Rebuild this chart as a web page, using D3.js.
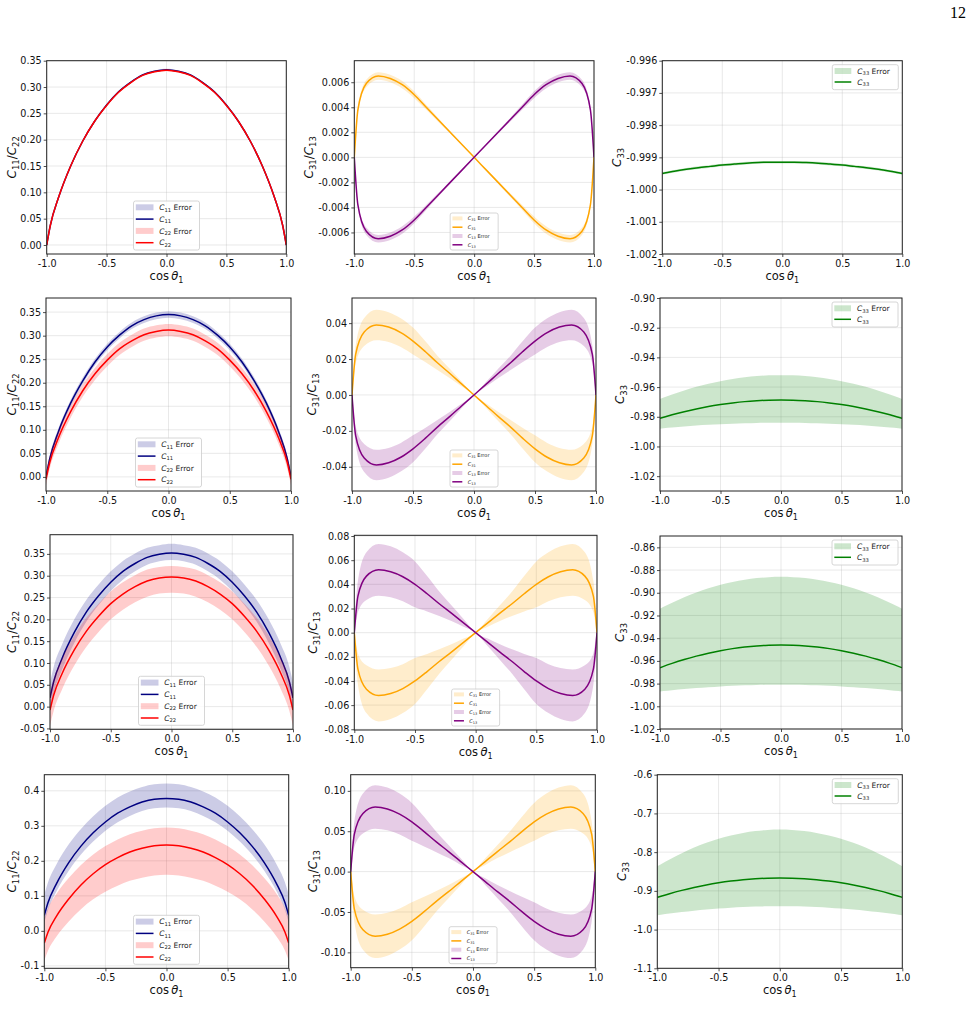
<!DOCTYPE html>
<html>
<head>
<meta charset="utf-8">
<script src="https://cdn.jsdelivr.net/npm/d3@7"></script>
<style>
body { margin: 0; background: #fff; }
svg { display: block; font-family: "DejaVu Sans", sans-serif; }
</style>
</head>
<body>
<script>
const cosTheta = [-1, -0.97, -0.9, -0.8, -0.7, -0.6, -0.5, -0.4, -0.3, -0.2, -0.1, 0, 0.1, 0.2, 0.3, 0.4, 0.5, 0.6, 0.7, 0.8, 0.9, 0.97, 1]

// ---- row 1 ----
const c11Row1 = [0, 0.037, 0.091, 0.150, 0.197, 0.235, 0.266, 0.291, 0.309, 0.323, 0.330, 0.333, 0.330, 0.323, 0.309, 0.291, 0.266, 0.235, 0.197, 0.150, 0.091, 0.037, 0]
const c11Row1Err = [0.0015, 0.0015, 0.0015, 0.0015, 0.0015, 0.0015, 0.0015, 0.0015, 0.0015, 0.0015, 0.0015, 0.0015, 0.0015, 0.0015, 0.0015, 0.0015, 0.0015, 0.0015, 0.0015, 0.0015, 0.0015, 0.0015, 0.0015]
const c22Row1 = [0, 0.037, 0.091, 0.150, 0.197, 0.235, 0.265, 0.290, 0.308, 0.322, 0.329, 0.332, 0.329, 0.322, 0.308, 0.290, 0.265, 0.235, 0.197, 0.150, 0.091, 0.037, 0]
const c22Row1Err = [0.0015, 0.0015, 0.0015, 0.0015, 0.0015, 0.0015, 0.0015, 0.0015, 0.0015, 0.0015, 0.0015, 0.0015, 0.0015, 0.0015, 0.0015, 0.0015, 0.0015, 0.0015, 0.0015, 0.0015, 0.0015, 0.0015, 0.0015]
const c31Row1 = [0, 0.0038, 0.0059, 0.0065, 0.0063, 0.0058, 0.0050, 0.0040, 0.0030, 0.0020, 0.0010, 0, -0.0010, -0.0020, -0.0030, -0.0040, -0.0050, -0.0058, -0.0063, -0.0065, -0.0059, -0.0038, 0]
const c13Row1 = [0, -0.0038, -0.0059, -0.0065, -0.0063, -0.0058, -0.0050, -0.0040, -0.0030, -0.0020, -0.0010, 0, 0.0010, 0.0020, 0.0030, 0.0040, 0.0050, 0.0058, 0.0063, 0.0065, 0.0059, 0.0038, 0]
const c31Row1Err = [0.0001, 0.0002, 0.0003, 0.0003, 0.0003, 0.0003, 0.00027, 0.0002, 0.00015, 0.0001, 0.00005, 0, 0.00005, 0.0001, 0.00015, 0.0002, 0.00027, 0.0003, 0.0003, 0.0003, 0.0003, 0.0002, 0.0001]
const c33Row1 = [-0.99950, -0.99948, -0.99943, -0.99937, -0.99932, -0.99928, -0.99924, -0.99921, -0.99918, -0.99916, -0.99915, -0.99915, -0.99915, -0.99916, -0.99918, -0.99921, -0.99924, -0.99928, -0.99932, -0.99937, -0.99943, -0.99948, -0.99950]
const c33Row1Err = [0.00004, 0.00004, 0.00004, 0.00004, 0.00004, 0.00004, 0.00004, 0.00004, 0.00004, 0.00004, 0.00004, 0.00004, 0.00004, 0.00004, 0.00004, 0.00004, 0.00004, 0.00004, 0.00004, 0.00004, 0.00004, 0.00004, 0.00004]

// ---- row 2 ----
const c11Row2 = [0, 0.038, 0.095, 0.156, 0.204, 0.244, 0.276, 0.301, 0.321, 0.334, 0.342, 0.345, 0.342, 0.334, 0.321, 0.301, 0.276, 0.244, 0.204, 0.156, 0.095, 0.038, 0]
const c11Row2Err = [0.007, 0.007, 0.007, 0.007, 0.007, 0.007, 0.007, 0.007, 0.007, 0.007, 0.007, 0.007, 0.007, 0.007, 0.007, 0.007, 0.007, 0.007, 0.007, 0.007, 0.007, 0.007, 0.007]
const c22Row2 = [-0.005, 0.030, 0.082, 0.138, 0.183, 0.219, 0.248, 0.272, 0.289, 0.302, 0.309, 0.312, 0.309, 0.302, 0.289, 0.272, 0.248, 0.219, 0.183, 0.138, 0.082, 0.030, -0.005]
const c22Row2Err = [0.013, 0.013, 0.013, 0.013, 0.013, 0.013, 0.013, 0.013, 0.013, 0.013, 0.013, 0.013, 0.013, 0.013, 0.013, 0.013, 0.013, 0.013, 0.013, 0.013, 0.013, 0.013, 0.013]
const c31Row2 = [0, 0.0226, 0.0351, 0.039, 0.0378, 0.0347, 0.0300, 0.0242, 0.0179, 0.0121, 0.0060, 0, -0.0060, -0.0121, -0.0179, -0.0242, -0.0300, -0.0347, -0.0378, -0.039, -0.0351, -0.0226, 0]
const c13Row2 = [0, -0.0226, -0.0351, -0.039, -0.0378, -0.0347, -0.0300, -0.0242, -0.0179, -0.0121, -0.0060, 0, 0.0060, 0.0121, 0.0179, 0.0242, 0.0300, 0.0347, 0.0378, 0.039, 0.0351, 0.0226, 0]
const c31Row2Err = [0.002, 0.005, 0.0078, 0.0085, 0.0083, 0.008, 0.0075, 0.0058, 0.004, 0.0026, 0.0013, 0, 0.0013, 0.0026, 0.004, 0.0058, 0.0075, 0.008, 0.0083, 0.0085, 0.0078, 0.005, 0.002]
const c33Row2 = [-0.9810, -0.9803, -0.9787, -0.9766, -0.9747, -0.9731, -0.9718, -0.9707, -0.9698, -0.9692, -0.9688, -0.9687, -0.9688, -0.9692, -0.9698, -0.9707, -0.9718, -0.9731, -0.9747, -0.9766, -0.9787, -0.9803, -0.9810]
const c33Row2Up = [0.0130, 0.0132, 0.0137, 0.0143, 0.0149, 0.0154, 0.0158, 0.0161, 0.0164, 0.0166, 0.0167, 0.0167, 0.0167, 0.0166, 0.0164, 0.0161, 0.0158, 0.0154, 0.0149, 0.0143, 0.0137, 0.0132, 0.0130]
const c33Row2Down = [0.0070, 0.0075, 0.0086, 0.0100, 0.0112, 0.0123, 0.0132, 0.0140, 0.0146, 0.0150, 0.0152, 0.0153, 0.0152, 0.0150, 0.0146, 0.0140, 0.0132, 0.0123, 0.0112, 0.0100, 0.0086, 0.0075, 0.0070]

// ---- row 3 ----
const c11Row3 = [0.02, 0.057, 0.111, 0.170, 0.217, 0.254, 0.285, 0.310, 0.328, 0.342, 0.349, 0.352, 0.349, 0.342, 0.328, 0.310, 0.285, 0.254, 0.217, 0.170, 0.111, 0.057, 0.02]
const c11Row3Up = [0.035, 0.034, 0.032, 0.030, 0.028, 0.026, 0.025, 0.024, 0.023, 0.022, 0.021, 0.021, 0.021, 0.022, 0.023, 0.024, 0.025, 0.026, 0.028, 0.030, 0.032, 0.034, 0.035]
const c11Row3Down = [0.028, 0.027, 0.026, 0.024, 0.022, 0.021, 0.020, 0.019, 0.018, 0.017, 0.016, 0.016, 0.016, 0.017, 0.018, 0.019, 0.020, 0.021, 0.022, 0.024, 0.026, 0.027, 0.028]
const c22Row3 = [-0.008, 0.026, 0.076, 0.130, 0.173, 0.207, 0.236, 0.258, 0.275, 0.288, 0.295, 0.297, 0.295, 0.288, 0.275, 0.258, 0.236, 0.207, 0.173, 0.130, 0.076, 0.026, -0.008]
const c22Row3Up = [0.038, 0.037, 0.035, 0.033, 0.031, 0.029, 0.028, 0.027, 0.026, 0.026, 0.025, 0.025, 0.025, 0.026, 0.026, 0.027, 0.028, 0.029, 0.031, 0.033, 0.035, 0.037, 0.038]
const c22Row3Down = [0.036, 0.036, 0.036, 0.036, 0.036, 0.036, 0.036, 0.036, 0.036, 0.036, 0.036, 0.036, 0.036, 0.036, 0.036, 0.036, 0.036, 0.036, 0.036, 0.036, 0.036, 0.036, 0.036]
const c31Row3 = [0, -0.0302, -0.0468, -0.052, -0.0504, -0.0463, -0.0400, -0.0322, -0.0239, -0.0161, -0.0081, 0, 0.0081, 0.0161, 0.0239, 0.0322, 0.0400, 0.0463, 0.0504, 0.052, 0.0468, 0.0302, 0]
const c13Row3 = [0, 0.0302, 0.0468, 0.052, 0.0504, 0.0463, 0.0400, 0.0322, 0.0239, 0.0161, 0.0081, 0, -0.0081, -0.0161, -0.0239, -0.0322, -0.0400, -0.0463, -0.0504, -0.052, -0.0468, -0.0302, 0]
const c31Row3Err = [0.005, 0.013, 0.0198, 0.0215, 0.0211, 0.0202, 0.019, 0.0146, 0.0101, 0.0065, 0.0032, 0, 0.0032, 0.0065, 0.0101, 0.0146, 0.019, 0.0202, 0.0211, 0.0215, 0.0198, 0.013, 0.005]
const c33Row3 = [-0.966, -0.9648, -0.9622, -0.9588, -0.9558, -0.9532, -0.951, -0.9492, -0.9478, -0.9468, -0.9462, -0.946, -0.9462, -0.9468, -0.9478, -0.9492, -0.951, -0.9532, -0.9558, -0.9588, -0.9622, -0.9648, -0.966]
const c33Row3Up = [0.052, 0.0525, 0.0535, 0.0549, 0.0561, 0.0571, 0.058, 0.0587, 0.0593, 0.0597, 0.0599, 0.060, 0.0599, 0.0597, 0.0593, 0.0587, 0.058, 0.0571, 0.0561, 0.0549, 0.0535, 0.0525, 0.052]
const c33Row3Down = [0.021, 0.0218, 0.0237, 0.0260, 0.0281, 0.0300, 0.0315, 0.0328, 0.0337, 0.0344, 0.0349, 0.035, 0.0349, 0.0344, 0.0337, 0.0328, 0.0315, 0.0300, 0.0281, 0.0260, 0.0237, 0.0218, 0.021]

// ---- row 4 ----
const c11Row4 = [0.044, 0.080, 0.135, 0.195, 0.242, 0.280, 0.311, 0.336, 0.354, 0.368, 0.376, 0.378, 0.376, 0.368, 0.354, 0.336, 0.311, 0.280, 0.242, 0.195, 0.135, 0.080, 0.044]
const c11Row4Up = [0.060, 0.058, 0.055, 0.052, 0.049, 0.047, 0.046, 0.045, 0.044, 0.043, 0.043, 0.043, 0.043, 0.043, 0.044, 0.045, 0.046, 0.047, 0.049, 0.052, 0.055, 0.058, 0.060]
const c11Row4Down = [0.020, 0.021, 0.022, 0.023, 0.024, 0.025, 0.025, 0.026, 0.026, 0.026, 0.026, 0.026, 0.026, 0.026, 0.026, 0.026, 0.025, 0.025, 0.024, 0.023, 0.022, 0.021, 0.020]
const c22Row4 = [-0.035, -0.004, 0.042, 0.091, 0.131, 0.163, 0.189, 0.209, 0.225, 0.236, 0.243, 0.245, 0.243, 0.236, 0.225, 0.209, 0.189, 0.163, 0.131, 0.091, 0.042, -0.004, -0.035]
const c22Row4Up = [0.070, 0.068, 0.064, 0.060, 0.057, 0.055, 0.053, 0.052, 0.051, 0.050, 0.050, 0.050, 0.050, 0.050, 0.051, 0.052, 0.053, 0.055, 0.057, 0.060, 0.064, 0.068, 0.070]
const c22Row4Down = [0.050, 0.053, 0.058, 0.064, 0.069, 0.073, 0.077, 0.080, 0.082, 0.084, 0.085, 0.085, 0.085, 0.084, 0.082, 0.080, 0.077, 0.073, 0.069, 0.064, 0.058, 0.053, 0.050]
const c31Row4 = [0, -0.0464, -0.072, -0.08, -0.0776, -0.0712, -0.0616, -0.0496, -0.0368, -0.0248, -0.0124, 0, 0.0124, 0.0248, 0.0368, 0.0496, 0.0616, 0.0712, 0.0776, 0.08, 0.072, 0.0464, 0]
const c13Row4 = [0, 0.0464, 0.072, 0.08, 0.0776, 0.0712, 0.0616, 0.0496, 0.0368, 0.0248, 0.0124, 0, -0.0124, -0.0248, -0.0368, -0.0496, -0.0616, -0.0712, -0.0776, -0.08, -0.072, -0.0464, 0]
const c31Row4Err = [0.007, 0.016, 0.0248, 0.027, 0.0265, 0.0254, 0.0235, 0.0184, 0.0127, 0.0081, 0.0041, 0, 0.0041, 0.0081, 0.0127, 0.0184, 0.0235, 0.0254, 0.0265, 0.027, 0.0248, 0.016, 0.007]
const c33Row4 = [-0.9167, -0.9138, -0.9073, -0.8988, -0.8913, -0.8848, -0.8793, -0.8748, -0.8713, -0.8688, -0.8673, -0.8668, -0.8673, -0.8688, -0.8713, -0.8748, -0.8793, -0.8848, -0.8913, -0.8988, -0.9073, -0.9138, -0.9167]
const c33Row4Up = [0.080, 0.0827, 0.0886, 0.0962, 0.1030, 0.1088, 0.1138, 0.1178, 0.1210, 0.1232, 0.1246, 0.125, 0.1246, 0.1232, 0.1210, 0.1178, 0.1138, 0.1088, 0.1030, 0.0962, 0.0886, 0.0827, 0.080]
const c33Row4Down = [0.046, 0.0476, 0.0511, 0.0557, 0.0598, 0.0633, 0.0663, 0.0687, 0.0706, 0.0719, 0.0727, 0.073, 0.0727, 0.0719, 0.0706, 0.0687, 0.0663, 0.0633, 0.0598, 0.0557, 0.0511, 0.0476, 0.046]

// ---- tick labels ----
const xTicks = [-1, -0.5, 0, 0.5, 1]
const xTickLabels = ["-1.0", "-0.5", "0.0", "0.5", "1.0"]

const yTicksC11Row1 = [0, 0.05, 0.1, 0.15, 0.2, 0.25, 0.3, 0.35]
const yLabelsC11Row1 = ["0.00", "0.05", "0.10", "0.15", "0.20", "0.25", "0.30", "0.35"]
const yTicksC31Row1 = [-0.006, -0.004, -0.002, 0, 0.002, 0.004, 0.006]
const yLabelsC31Row1 = ["-0.006", "-0.004", "-0.002", "0.000", "0.002", "0.004", "0.006"]
const yTicksC33Row1 = [-1.002, -1.001, -1.000, -0.999, -0.998, -0.997, -0.996]
const yLabelsC33Row1 = ["-1.002", "-1.001", "-1.000", "-0.999", "-0.998", "-0.997", "-0.996"]

const yTicksC11Row2 = [0, 0.05, 0.1, 0.15, 0.2, 0.25, 0.3, 0.35]
const yLabelsC11Row2 = ["0.00", "0.05", "0.10", "0.15", "0.20", "0.25", "0.30", "0.35"]
const yTicksC31Row2 = [-0.04, -0.02, 0, 0.02, 0.04]
const yLabelsC31Row2 = ["-0.04", "-0.02", "0.00", "0.02", "0.04"]
const yTicksC33Row2 = [-1.02, -1.0, -0.98, -0.96, -0.94, -0.92, -0.9]
const yLabelsC33Row2 = ["-1.02", "-1.00", "-0.98", "-0.96", "-0.94", "-0.92", "-0.90"]

const yTicksC11Row3 = [-0.05, 0, 0.05, 0.1, 0.15, 0.2, 0.25, 0.3, 0.35]
const yLabelsC11Row3 = ["-0.05", "0.00", "0.05", "0.10", "0.15", "0.20", "0.25", "0.30", "0.35"]
const yTicksC31Row3 = [-0.08, -0.06, -0.04, -0.02, 0, 0.02, 0.04, 0.06, 0.08]
const yLabelsC31Row3 = ["-0.08", "-0.06", "-0.04", "-0.02", "0.00", "0.02", "0.04", "0.06", "0.08"]
const yTicksC33Row3 = [-1.02, -1.0, -0.98, -0.96, -0.94, -0.92, -0.9, -0.88, -0.86]
const yLabelsC33Row3 = ["-1.02", "-1.00", "-0.98", "-0.96", "-0.94", "-0.92", "-0.90", "-0.88", "-0.86"]

const yTicksC11Row4 = [-0.1, 0, 0.1, 0.2, 0.3, 0.4]
const yLabelsC11Row4 = ["-0.1", "0.0", "0.1", "0.2", "0.3", "0.4"]
const yTicksC31Row4 = [-0.1, -0.05, 0, 0.05, 0.1]
const yLabelsC31Row4 = ["-0.10", "-0.05", "0.00", "0.05", "0.10"]
const yTicksC33Row4 = [-1.1, -1.0, -0.9, -0.8, -0.7, -0.6]
const yLabelsC33Row4 = ["-1.1", "-1.0", "-0.9", "-0.8", "-0.7", "-0.6"]

// couleurs matplotlib
const colors = { c11: "navy", c22: "red", c31: "orange", c13: "purple", c33: "green" }

/* ------------------------------------------------------------------
    MISE EN PAGE (boîte de chaque sous-graphe : gauche, haut, droite, bas)
------------------------------------------------------------------ */
const panels = [
    { box: [46.7, 60.7, 286.3, 254], yDomain: [-0.0171, 0.35], ticks: yTicksC11Row1, labels: yLabelsC11Row1, kind: "c11", ylabX: 12,
      series: [{ key: "c11", sub: "11", mid: c11Row1, up: c11Row1Err, down: c11Row1Err }, { key: "c22", sub: "22", mid: c22Row1, up: c22Row1Err, down: c22Row1Err }] },
    { box: [354.3, 60.7, 594, 254], yDomain: [-0.00772, 0.00772], ticks: yTicksC31Row1, labels: yLabelsC31Row1, kind: "c31", ylabX: 309,
      series: [{ key: "c31", sub: "31", mid: c31Row1, up: c31Row1Err, down: c31Row1Err }, { key: "c13", sub: "13", mid: c13Row1, up: c31Row1Err, down: c31Row1Err }] },
    { box: [662.3, 60.7, 902.3, 254], yDomain: [-1.002, -0.996], ticks: yTicksC33Row1, labels: yLabelsC33Row1, kind: "c33", ylabX: 617,
      series: [{ key: "c33", sub: "33", mid: c33Row1, up: c33Row1Err, down: c33Row1Err }] },

    { box: [46, 298, 291, 491], yDomain: [-0.03, 0.38], ticks: yTicksC11Row2, labels: yLabelsC11Row2, kind: "c11", ylabX: 12,
      series: [{ key: "c11", sub: "11", mid: c11Row2, up: c11Row2Err, down: c11Row2Err }, { key: "c22", sub: "22", mid: c22Row2, up: c22Row2Err, down: c22Row2Err }] },
    { box: [352, 298, 596, 491], yDomain: [-0.0535, 0.054], ticks: yTicksC31Row2, labels: yLabelsC31Row2, kind: "c31", ylabX: 312,
      series: [{ key: "c31", sub: "31", mid: c31Row2, up: c31Row2Err, down: c31Row2Err }, { key: "c13", sub: "13", mid: c13Row2, up: c31Row2Err, down: c31Row2Err }] },
    { box: [660, 298, 902, 491], yDomain: [-1.03, -0.90], ticks: yTicksC33Row2, labels: yLabelsC33Row2, kind: "c33", ylabX: 620,
      series: [{ key: "c33", sub: "33", mid: c33Row2, up: c33Row2Up, down: c33Row2Down }] },

    { box: [50, 534.7, 293, 729.3], yDomain: [-0.052, 0.394], ticks: yTicksC11Row3, labels: yLabelsC11Row3, kind: "c11", ylabX: 12,
      series: [{ key: "c11", sub: "11", mid: c11Row3, up: c11Row3Up, down: c11Row3Down }, { key: "c22", sub: "22", mid: c22Row3, up: c22Row3Up, down: c22Row3Down }] },
    { box: [354.3, 535.3, 597, 730], yDomain: [-0.0806, 0.0806], ticks: yTicksC31Row3, labels: yLabelsC31Row3, kind: "c31", ylabX: 313,
      series: [{ key: "c31", sub: "31", mid: c31Row3, up: c31Row3Err, down: c31Row3Err }, { key: "c13", sub: "13", mid: c13Row3, up: c31Row3Err, down: c31Row3Err }] },
    { box: [660, 536, 902, 729], yDomain: [-1.02, -0.85], ticks: yTicksC33Row3, labels: yLabelsC33Row3, kind: "c33", ylabX: 620,
      series: [{ key: "c33", sub: "33", mid: c33Row3, up: c33Row3Up, down: c33Row3Down }] },

    { box: [44.3, 774.7, 288.7, 968.3], yDomain: [-0.107, 0.446], ticks: yTicksC11Row4, labels: yLabelsC11Row4, kind: "c11", ylabX: 12,
      series: [{ key: "c11", sub: "11", mid: c11Row4, up: c11Row4Up, down: c11Row4Down }, { key: "c22", sub: "22", mid: c22Row4, up: c22Row4Up, down: c22Row4Down }] },
    { box: [350.7, 774.7, 595.3, 967.7], yDomain: [-0.119, 0.12], ticks: yTicksC31Row4, labels: yLabelsC31Row4, kind: "c31", ylabX: 313,
      series: [{ key: "c31", sub: "31", mid: c31Row4, up: c31Row4Err, down: c31Row4Err }, { key: "c13", sub: "13", mid: c13Row4, up: c31Row4Err, down: c31Row4Err }] },
    { box: [657.3, 774.7, 902.3, 968.3], yDomain: [-1.1, -0.6], ticks: yTicksC33Row4, labels: yLabelsC33Row4, kind: "c33", ylabX: 622,
      series: [{ key: "c33", sub: "33", mid: c33Row4, up: c33Row4Up, down: c33Row4Down }] }
]

// légendes : taille, police, interligne
const legendCfg = {
    c11: { w: 66, h: 49, fs: 7.5, row0: 6.3, rowH: 11.8, hx: 2.3, hw: 17.7, ph: 6, tx: 25.7, pos: "lc" },
    c31: { w: 48, h: 37, fs: 5, row0: 5.4, rowH: 8.8, hx: 2.3, hw: 10, ph: 4, tx: 17.7, pos: "lc" },
    c33: { w: 66, h: 25, fs: 7.5, row0: 6.3, rowH: 11, hx: 2.3, hw: 16.7, ph: 6, tx: 25, pos: "ur" }
}

const yAxisTitles = {
    c11: [["C", "i"], ["11", "sub"], ["/", ""], ["C", "i"], ["22", "sub"]],
    c31: [["C", "i"], ["31", "sub"], ["/", ""], ["C", "i"], ["13", "sub"]],
    c33: [["C", "i"], ["33", "sub"]]
}

/* ------------------------------------------------------------------
    SVG
------------------------------------------------------------------ */
const svg = d3.select("body")
    .append("svg")
    .attr("width", 972)
    .attr("height", 1030)

// numéro de page
svg.append("text")
    .attr("x", 966)
    .attr("y", 18)
    .attr("text-anchor", "end")
    .attr("font-family", "'Liberation Serif', 'DejaVu Serif', serif")
    .attr("font-size", 16)
    .text("12")

// texte avec indices façon mathtext
function mathText(sel, parts, fs) {
    let shift = 0
    parts.forEach(([t, st]) => {
        const ts = sel.append("tspan").text(t)
        const target = st === "sub" ? fs * 0.22 : 0
        if (target !== shift) {
            ts.attr("dy", target - shift)
            shift = target
        }
        if (st === "i") ts.attr("font-style", "italic")
        if (st === "sub") ts.attr("font-size", fs * 0.7)
    })
}

panels.forEach((p, idx) => {
    const [l, t, r, b] = p.box
    const g = svg.append("g")

    const x = d3.scaleLinear().domain([-1, 1]).range([l, r])
    const y = d3.scaleLinear().domain(p.yDomain).range([b, t])

    // grille
    g.append("g")
        .selectAll("line")
        .data(xTicks)
        .join("line")
        .attr("x1", d => x(d)).attr("x2", d => x(d))
        .attr("y1", t).attr("y2", b)
        .attr("stroke", "#b0b0b0").attr("stroke-opacity", 0.35).attr("stroke-width", 0.8)
    g.append("g")
        .selectAll("line")
        .data(p.ticks)
        .join("line")
        .attr("x1", l).attr("x2", r)
        .attr("y1", d => y(d)).attr("y2", d => y(d))
        .attr("stroke", "#b0b0b0").attr("stroke-opacity", 0.35).attr("stroke-width", 0.8)

    // clip
    const clipId = "clip" + idx
    g.append("clipPath").attr("id", clipId)
        .append("rect").attr("x", l).attr("y", t).attr("width", r - l).attr("height", b - t)

    const plot = g.append("g").attr("clip-path", `url(#${clipId})`)

    // bandes d'erreur puis courbes, dans l'ordre de la légende
    p.series.forEach(s => {
        const area = d3.area()
            .x((d, i) => x(cosTheta[i]))
            .y0((d, i) => y(d - s.down[i]))
            .y1((d, i) => y(d + s.up[i]))
            .curve(d3.curveMonotoneX)
        const line = d3.line()
            .x((d, i) => x(cosTheta[i]))
            .y(d => y(d))
            .curve(d3.curveMonotoneX)
        plot.append("path")
            .datum(s.mid)
            .attr("d", area)
            .attr("fill", colors[s.key])
            .attr("fill-opacity", 0.2)
        plot.append("path")
            .datum(s.mid)
            .attr("d", line)
            .attr("fill", "none")
            .attr("stroke", colors[s.key])
            .attr("stroke-width", 1.5)
    })

    // axes
    const gx = g.append("g")
        .attr("transform", `translate(0,${b})`)
        .call(d3.axisBottom(x).tickValues(xTicks).tickFormat((d, i) => xTickLabels[i]).tickSize(3).tickPadding(3))
    const gy = g.append("g")
        .attr("transform", `translate(${l},0)`)
        .call(d3.axisLeft(y).tickValues(p.ticks).tickFormat((d, i) => p.labels[i]).tickSize(3).tickPadding(2))
    ;[gx, gy].forEach(a => {
        a.select(".domain").remove()
        a.attr("font-family", "'DejaVu Sans', sans-serif").attr("font-size", 9.6)
        a.selectAll("line").attr("stroke", "#222").attr("stroke-width", 0.8)
        a.selectAll("text").attr("fill", "#111")
    })

    // cadre
    g.append("rect")
        .attr("x", l).attr("y", t).attr("width", r - l).attr("height", b - t)
        .attr("fill", "none").attr("stroke", "#222").attr("stroke-width", 1)

    // titre axe X
    const xt = g.append("text")
        .attr("x", (l + r) / 2)
        .attr("y", b + 26)
        .attr("text-anchor", "middle")
        .attr("font-size", 11.5)
        .attr("fill", "#111")
    mathText(xt, [["cos\u2009", ""], ["θ", "i"], ["1", "sub"]], 11.5)

    // titre axe Y
    const yt = g.append("text")
        .attr("transform", `translate(${p.ylabX},${(t + b) / 2}) rotate(-90)`)
        .attr("text-anchor", "middle")
        .attr("dy", "0.35em")
        .attr("font-size", 12)
        .attr("fill", "#111")
    mathText(yt, yAxisTitles[p.kind], 12)

    // légende
    const cfg = legendCfg[p.kind]
    let lx, ly
    if (cfg.pos === "lc") {
        lx = (l + r) / 2 - cfg.w / 2
        ly = b - 4 - cfg.h
    } else {
        lx = r - 4 - cfg.w
        ly = t + 4
    }
    const lg = g.append("g")
    lg.append("rect")
        .attr("x", lx).attr("y", ly).attr("width", cfg.w).attr("height", cfg.h)
        .attr("rx", 2)
        .attr("fill", "white").attr("fill-opacity", 0.8)
        .attr("stroke", "#cccccc").attr("stroke-width", 0.8)
    let row = 0
    p.series.forEach(s => {
        // entrée "Error"
        let cy = ly + cfg.row0 + cfg.rowH * row
        lg.append("rect")
            .attr("x", lx + cfg.hx).attr("y", cy - cfg.ph / 2)
            .attr("width", cfg.hw).attr("height", cfg.ph)
            .attr("fill", colors[s.key]).attr("fill-opacity", 0.2)
        const t1 = lg.append("text")
            .attr("x", lx + cfg.tx).attr("y", cy).attr("dy", "0.35em")
            .attr("font-size", cfg.fs).attr("fill", "#222")
        mathText(t1, [["C", "i"], [s.sub, "sub"], [" Error", ""]], cfg.fs)
        row++
        // entrée ligne
        cy = ly + cfg.row0 + cfg.rowH * row
        lg.append("line")
            .attr("x1", lx + cfg.hx).attr("x2", lx + cfg.hx + cfg.hw)
            .attr("y1", cy).attr("y2", cy)
            .attr("stroke", colors[s.key]).attr("stroke-width", 1.5)
        const t2 = lg.append("text")
            .attr("x", lx + cfg.tx).attr("y", cy).attr("dy", "0.35em")
            .attr("font-size", cfg.fs).attr("fill", "#222")
        mathText(t2, [["C", "i"], [s.sub, "sub"]], cfg.fs)
        row++
    })
})
</script>
</body>
</html>
